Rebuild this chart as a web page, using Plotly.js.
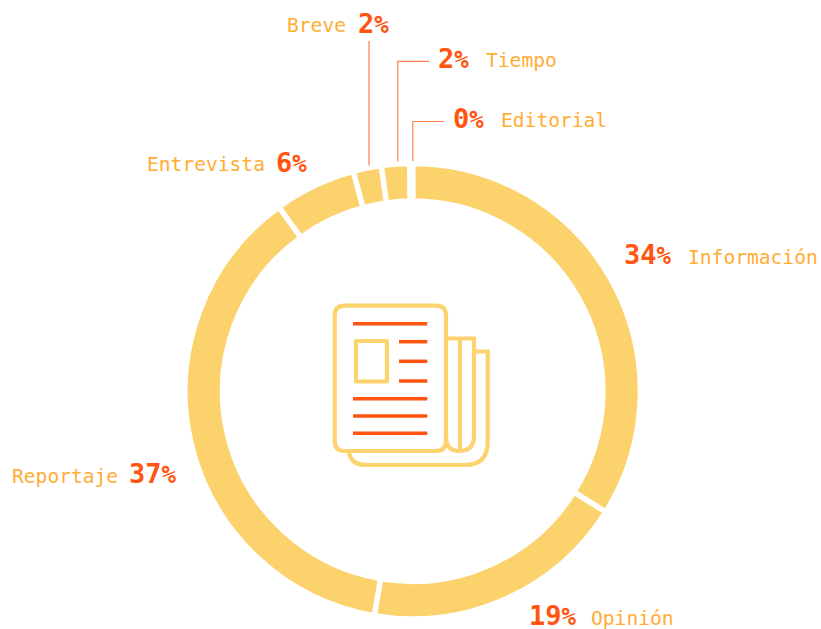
<!DOCTYPE html>
<html><head><meta charset="utf-8">
<script src="https://cdn.plot.ly/plotly-3.0.1.min.js"></script>
<style>html,body{margin:0;padding:0;background:#fff}#c{width:821px;height:629px}</style></head>
<body><div id="c"></div>
<script>
const categories = ['Información','Opinión','Reportaje','Entrevista','Breve','Tiempo','Editorial'];
const values = [33.9,18.8,37.3,5.8,2.0,2.0,0.2];
const shownPercent = ['34','19','37','6','2','2','0'];
const RING='#FBD26B', ICON='#FCD36E', NAME='#FFAD33', NUM='#FF5510';
const W=821,H=629;
const px=x=>x/W, py=y=>1-y/H;
const cx=412.7,cy=391.2,R=227.7;
// label placement: number-left, name-left, number-y, name-y
const place = [
 {nx:624,tx:688,ny:254.5,ty:257},
 {nx:529,tx:591,ny:615.5,ty:618},
 {nx:129,tx:12,ny:473.5,ty:476},
 {nx:276,tx:147,ny:162,ty:164},
 {nx:358,tx:287,ny:23.5,ty:26},
 {nx:438,tx:486,ny:58.5,ty:61},
 {nx:453,tx:501,ny:118.5,ty:121},
];
const annotations=[];
categories.forEach((c,i)=>{
  const p=place[i];
  annotations.push({xref:'paper',yref:'paper',x:px(p.nx),y:py(p.ny),xanchor:'left',yanchor:'middle',showarrow:false,borderpad:0,borderwidth:0,
    text:'<b>'+shownPercent[i]+'<span style="font-size:24px">%</span></b>',font:{family:'DejaVu Sans Mono',size:27,color:NUM}});
  annotations.push({xref:'paper',yref:'paper',x:px(p.tx),y:py(p.ty),xanchor:'left',yanchor:'middle',showarrow:false,borderpad:0,borderwidth:0,
    text:c,font:{family:'DejaVu Sans Mono',size:19.6,color:NAME}});
});
const P=(pts)=>pts.map(s=>{
  if(s[0]==='Z')return 'Z';
  let o=s[0];for(let i=1;i<s.length;i+=2){o+=px(s[i])+','+py(s[i+1])+' ';}return o;
}).join(' ');
const rr=(x0,y0,x1,y1,r)=>P([['M',x0+r,y0],['L',x1-r,y0],['Q',x1,y0,x1,y0+r],['L',x1,y1-r],['Q',x1,y1,x1-r,y1],['L',x0+r,y1],['Q',x0,y1,x0,y1-r],['L',x0,y0+r],['Q',x0,y0,x0+r,y0],['Z']]);
const shapes=[];
const stroke=(path,color,width,opacity)=>shapes.push({type:'path',xref:'paper',yref:'paper',path,line:{color,width},opacity:opacity||1,fillcolor:'rgba(0,0,0,0)',layer:'above'});
// leader lines
stroke(P([['M',369,41],['L',369,165.5]]),NUM,1.2,0.75);
stroke(P([['M',429,61.3],['L',397.8,61.3],['L',397.8,161.5]]),NUM,1.2,0.75);
stroke(P([['M',444,121.5],['L',412.8,121.5],['L',412.8,161]]),NUM,1.2,0.75);
// icon
stroke(rr(334.7,305.7,446,451,10),ICON,4.2);
stroke(rr(356,341,387,381.5,0.5),ICON,4.2);
stroke(P([['M',446,338.5],['L',474,338.5],['L',474,436],['Q',474,451,459,451],['Q',446,451,446,436]]),ICON,4.2);
stroke(P([['M',460,338.5],['L',460,450]]),ICON,4.2);
stroke(P([['M',474,351.5],['L',487.7,351.5],['L',487.7,442],['Q',487.7,465,465,465],['L',366,465],['Q',350,465,349,451]]),ICON,4.2);
[[353,427.3,323.7],[399,427.3,341.7],[399,427.3,361.3],[399,427.3,381],[353,427.3,398.7],[353,427.3,416],[353,427.3,433.3]].forEach(l=>
  stroke(P([['M',l[0],l[2]],['L',l[1],l[2]]]),NUM,3.5));
Plotly.newPlot('c',[{
  type:'pie',labels:categories,values:values,sort:false,direction:'clockwise',rotation:0,hole:190.2/227.7,
  textinfo:'none',hoverinfo:'label+percent',showlegend:false,automargin:false,
  marker:{colors:categories.map(()=>RING),line:{color:'#ffffff',width:5.4}},
  domain:{x:[px(cx-R),px(cx+R)],y:[py(cy+R),py(cy-R)]}
}],{width:W,height:H,margin:{l:0,r:0,t:0,b:0},paper_bgcolor:'#fff',showlegend:false,annotations,shapes},{displayModeBar:false,staticPlot:true});
</script></body></html>
